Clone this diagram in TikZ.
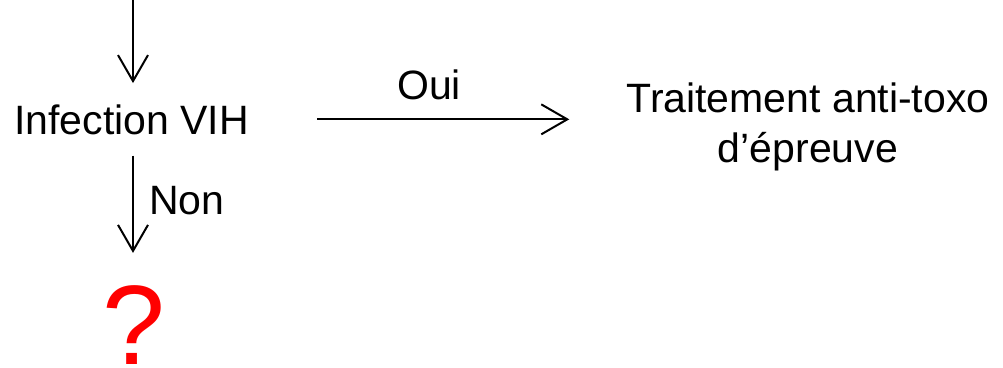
\documentclass[tikz,border=0pt]{standalone}
\usepackage{fontspec}
\setmainfont{Liberation Sans}
\usetikzlibrary{arrows.meta}
\begin{document}
\begin{tikzpicture}[x=1pt,y=-1pt,
  txt/.style={inner sep=0pt,font=\fontsize{41}{50}\selectfont},
  arr/.style={line width=2pt,-{Straight Barb[length=26pt,width=30pt,line width=2pt]}}]
\useasboundingbox (0,0) rectangle (1003,367);
\node[txt,anchor=base] (inf) at (131.5,134) {Infection VIH};
\node[txt,anchor=base west] (non) at (149,214) {Non};
\node[txt,anchor=base] (oui) at (429,99) {Oui};
\node[txt,anchor=north,align=center] (trt) at (808,83) {Traitement anti-toxo\\d’épreuve};
\node[inner sep=0pt,anchor=base,text=red,font=\fontsize{113}{120}\selectfont] (q) at (133.5,364) {?};
\coordinate (top) at (133,-2);
\draw[arr,shorten >=21pt] (top) -- (top |- inf.north);
\draw[arr,shorten <=21pt,shorten >=32pt] (top |- inf.south) -- (top |- q.north);
\draw[arr,shorten <=68pt,shorten >=57pt] (inf.east) -- (inf.east -| trt.west);
\end{tikzpicture}
\end{document}
